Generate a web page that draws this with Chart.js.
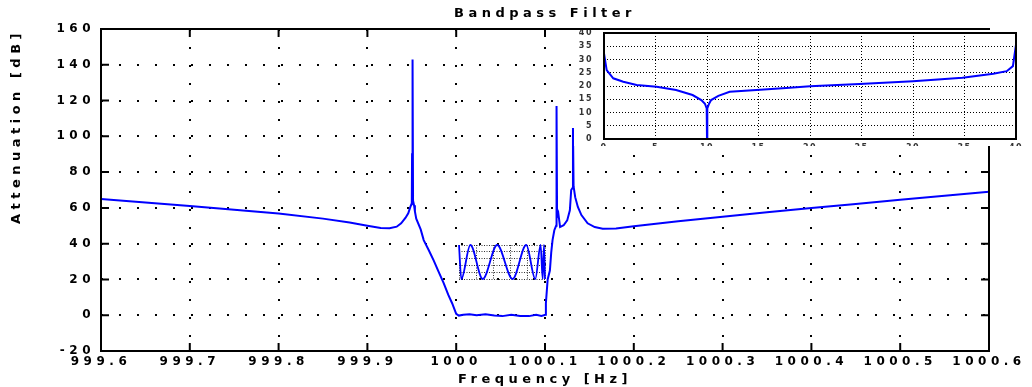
<!DOCTYPE html>
<html>
<head>
<meta charset="utf-8">
<title>Bandpass Filter</title>
<script src="https://cdn.jsdelivr.net/npm/chart.js@4.4.0/dist/chart.umd.min.js"></script>
<style>
    html, body { margin: 0; padding: 0; background: #fff; }
    #wrap { position: relative; width: 1032px; height: 387px; overflow: hidden; }
    canvas { position: absolute; }
    #main { left: 0; top: 0; }
    #ripple { left: 458px; top: 244px; }
    #zoomBand { left: 574px; top: 30px; background: #fff; }
</style>
</head>
<body>
<div id="wrap">
    <canvas id="main" width="1032" height="387"></canvas>
    <canvas id="ripple" width="88" height="36"></canvas>
    <canvas id="zoomBand" width="458" height="116"></canvas>
</div>
<script>
// Main response: frequency [Hz] vs attenuation [dB]
const freq = [
    999.600, 999.650, 999.700, 999.750, 999.800, 999.850, 999.880, 999.900,
    999.915, 999.925, 999.933, 999.938, 999.943, 999.946, 999.948, 999.9495,
    999.9500, 999.9503, 999.9507, 999.9510, 999.9514, 999.9525, 999.9535, 999.9550,
    999.9600, 999.9634, 999.9690, 999.9746, 999.9800, 999.9859, 999.9910, 999.9954,
    1000.0000, 1000.0030, 1000.0080, 1000.0150, 1000.0230, 1000.0330, 1000.0430, 1000.0520,
    1000.0620, 1000.0720, 1000.0820, 1000.0900, 1000.0960, 1000.1005, 1000.1010, 1000.1030,
    1000.1055, 1000.1070, 1000.1085, 1000.1105, 1000.1125, 1000.1130, 1000.1136, 1000.1150,
    1000.1170, 1000.1210, 1000.1250, 1000.1280, 1000.1295, 1000.1308, 1000.1315, 1000.1322,
    1000.1340, 1000.1370, 1000.1410, 1000.1480, 1000.1560, 1000.1650, 1000.1800, 1000.2000,
    1000.2500, 1000.3000, 1000.3500, 1000.4000, 1000.4500, 1000.5000, 1000.5500, 1000.6000
];
const atten = [
    65.0, 63.0, 61.0, 59.0, 56.8, 54.0, 51.8, 50.0,
    48.8, 48.6, 49.5, 51.4, 54.5, 57.0, 60.0, 62.0,
    63.0, 90.0, 92.0, 143.0, 64.0, 61.5, 58.0, 54.0,
    48.0, 42.0, 36.5, 30.7, 24.5, 17.9, 11.5, 6.7,
    0.8, -0.2, 0.3, 0.6, 0.0, 0.5, -0.2, -0.5,
    0.2, -0.4, -0.5, 0.3, -0.4, 0.2, 6.7, 20.0,
    25.0, 35.0, 42.0, 47.5, 50.0, 117.0, 55.0, 57.0,
    49.3, 50.3, 53.0, 58.7, 70.0, 71.0, 104.6, 72.0,
    66.0, 60.5, 56.0, 51.4, 49.3, 48.4, 48.5, 49.8,
    52.5, 55.0, 57.5, 60.0, 62.2, 64.5, 66.8, 69.0
];
const xTicks = [999.6, 999.7, 999.8, 999.9, 1000.0, 1000.1, 1000.2, 1000.3, 1000.4, 1000.5, 1000.6];
const yTicks = [-20, 0, 20, 40, 60, 80, 100, 120, 140, 160];

// Passband ripple (small inset)
const rippleX = [1000.0000, 1000.0027, 1000.0132, 1000.0276, 1000.0444, 1000.0623,
                 1000.0782, 1000.0887, 1000.0949, 1000.0973, 1000.0988, 1000.1000];
const rippleY = [0.5, -0.5, 0.5, -0.5, 0.5, -0.5, 0.5, -0.5, 0.5, -0.5, 0.5, -0.5];
const rippleGridX = [1000.00, 1000.02, 1000.04, 1000.06, 1000.08, 1000.10];
const rippleGridY = [-0.5, -0.3, -0.1, 0.1, 0.3, 0.5];

// Upper inset curve
const insetX = [0, 0.26, 0.9, 1.87, 3.17, 5.1, 7.0, 8.6, 9.45, 9.8, 9.97, 10.0,
                10.03, 10.2, 10.4, 11.1, 12.2, 14.8, 17.7, 20.0, 24.8, 30.0, 34.8,
                37.8, 39.1, 39.7, 40.0];
const insetY = [32.3, 26.0, 22.9, 21.6, 20.4, 19.7, 18.5, 16.6, 14.7, 13.3, 11.5, 0,
                11.5, 13.3, 14.7, 16.3, 17.8, 18.5, 19.2, 19.9, 20.8, 21.8, 23.1,
                24.6, 25.6, 27.5, 35.6];
const insetTicks = [0, 5, 10, 15, 20, 25, 30, 35, 40];

const BLUE = '#0000ff';
Chart.defaults.font.family = "'DejaVu Sans', sans-serif";
Chart.defaults.font.weight = 'bold';
Chart.defaults.color = '#000';

// Wide lettering like the original plot
const spacingPlugin = {
    id: 'spacing',
    beforeDraw(chart, args, opts) {
        chart.ctx.letterSpacing = (opts.px || 0) + 'px';
    }
};

// Solid box round the axes, with inward tick marks
const framePlugin = {
    id: 'frame',
    afterDraw(chart, args, opts) {
        if (!opts.show) return;
        const { ctx, chartArea: a, scales } = chart;
        const t = opts.tick || 0;
        ctx.save();
        ctx.strokeStyle = '#000';
        ctx.lineWidth = 2;
        ctx.beginPath();
        if (t) {
            scales.x.ticks.forEach(tk => {
                const px = scales.x.getPixelForValue(tk.value);
                ctx.moveTo(px, a.top); ctx.lineTo(px, a.top + t);
                ctx.moveTo(px, a.bottom); ctx.lineTo(px, a.bottom - t);
            });
            scales.y.ticks.forEach(tk => {
                const py = scales.y.getPixelForValue(tk.value);
                ctx.moveTo(a.left, py); ctx.lineTo(a.left + t, py);
                ctx.moveTo(a.right, py); ctx.lineTo(a.right - t, py);
            });
        }
        ctx.stroke();
        ctx.strokeRect(a.left, a.top, a.right - a.left, a.bottom - a.top);
        ctx.restore();
    }
};

function toPoints(xs, ys) {
    return xs.map((x, i) => ({ x: x, y: ys[i] }));
}

function fixedTicks(values) {
    return scale => { scale.ticks = values.map(v => ({ value: v })); };
}

// Main chart
new Chart(document.getElementById('main'), {
    type: 'line',
    data: {
        datasets: [{
            data: toPoints(freq, atten),
            borderColor: BLUE,
            borderWidth: 2,
            pointRadius: 0,
            tension: 0
        }]
    },
    options: {
        responsive: false,
        animation: false,
        layout: { padding: { left: 0, right: 43, top: 0, bottom: 0 } },
        plugins: {
            legend: { display: false },
            tooltip: { enabled: false },
            title: {
                display: true,
                text: 'Bandpass Filter',
                fullSize: false,
                color: '#000',
                font: { size: 13 },
                padding: { top: 6, bottom: 7.4 }
            },
            spacing: { px: 4.5 },
            frame: { show: true, tick: 8 }
        },
        scales: {
            x: {
                type: 'linear',
                min: 999.6,
                max: 1000.6,
                afterFit: s => { s.height = 36; },
                afterBuildTicks: fixedTicks(xTicks),
                grid: { color: '#000', lineWidth: 2, drawTicks: false },
                border: { display: false, dash: [2, 16] },
                ticks: {
                    color: '#000',
                    font: { size: 12 },
                    padding: 4,
                    maxRotation: 0,
                    autoSkip: false,
                    callback: v => String(+v.toFixed(1))
                },
                title: {
                    display: true,
                    text: 'Frequency [Hz]',
                    color: '#000',
                    font: { size: 13 },
                    padding: { top: 0, bottom: 0 }
                }
            },
            y: {
                min: -20,
                max: 160,
                afterFit: s => { s.width = 101; },
                afterBuildTicks: fixedTicks(yTicks),
                grid: { color: '#000', lineWidth: 2, drawTicks: false },
                border: { display: false, dash: [2, 16] },
                ticks: { color: '#000', font: { size: 12 }, padding: 6 },
                title: {
                    display: true,
                    text: 'Attenuation [dB]',
                    align: 'end',
                    color: '#000',
                    font: { size: 13 },
                    padding: { top: 9, bottom: 0 }
                }
            }
        }
    },
    plugins: [spacingPlugin, framePlugin]
});

// Passband ripple inset
new Chart(document.getElementById('ripple'), {
    type: 'line',
    data: {
        datasets: [{
            data: toPoints(rippleX, rippleY),
            borderColor: BLUE,
            borderWidth: 1.8,
            pointRadius: 0,
            cubicInterpolationMode: 'monotone',
            clip: 3
        }]
    },
    options: {
        responsive: false,
        animation: false,
        layout: { padding: 1 },
        plugins: { legend: { display: false }, tooltip: { enabled: false }, frame: { show: false } },
        scales: {
            x: {
                type: 'linear',
                min: 1000.0,
                max: 1000.1,
                afterFit: s => { s.height = 0; },
                afterBuildTicks: fixedTicks(rippleGridX),
                ticks: { display: false },
                grid: { color: '#333', lineWidth: 1, drawTicks: false },
                border: { display: false, dash: [1, 1.5] }
            },
            y: {
                min: -0.5,
                max: 0.5,
                afterFit: s => { s.width = 0; },
                afterBuildTicks: fixedTicks(rippleGridY),
                ticks: { display: false },
                grid: { color: '#333', lineWidth: 1, drawTicks: false },
                border: { display: false, dash: [1, 1.5] }
            }
        }
    },
    plugins: [framePlugin]
});

// Upper right inset
new Chart(document.getElementById('zoomBand'), {
    type: 'line',
    data: {
        datasets: [{
            data: toPoints(insetX, insetY),
            borderColor: BLUE,
            borderWidth: 2,
            pointRadius: 0,
            tension: 0
        }]
    },
    options: {
        responsive: false,
        animation: false,
        layout: { padding: { left: 0, right: 16, top: 3, bottom: 0 } },
        plugins: {
            legend: { display: false },
            tooltip: { enabled: false },
            spacing: { px: 1.5 },
            frame: { show: true, tick: 0 }
        },
        scales: {
            x: {
                type: 'linear',
                min: 0,
                max: 40,
                afterFit: s => { s.height = 7; s.paddingLeft = 0; s.paddingRight = 0; },
                afterBuildTicks: fixedTicks(insetTicks),
                grid: { color: '#000', lineWidth: 1, drawTicks: false },
                border: { display: false, dash: [1, 2] },
                ticks: { color: '#333', font: { size: 8 }, padding: 4, maxRotation: 0, autoSkip: false }
            },
            y: {
                min: 0,
                max: 40,
                afterFit: s => { s.width = 30; s.paddingTop = 0; s.paddingBottom = 0; },
                afterBuildTicks: fixedTicks(insetTicks),
                grid: { color: '#000', lineWidth: 1, drawTicks: false },
                border: { display: false, dash: [1, 2] },
                ticks: { color: '#333', font: { size: 8 }, padding: 11 }
            }
        }
    },
    plugins: [spacingPlugin, framePlugin]
});
</script>
</body>
</html>
